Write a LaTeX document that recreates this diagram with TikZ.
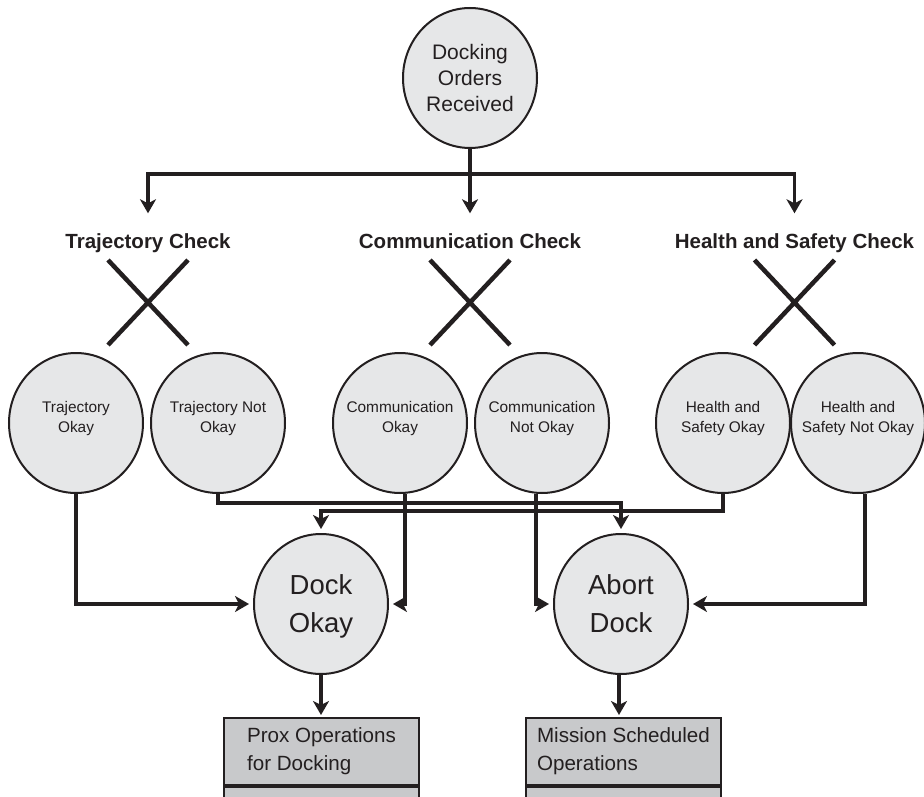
\documentclass[tikz,border=0pt]{standalone}
\usepackage{fontspec}
\setmainfont{Liberation Sans}
\usetikzlibrary{arrows.meta,shapes.geometric}
\definecolor{ink}{HTML}{231F20}
\definecolor{bubblefill}{HTML}{E6E7E8}
\definecolor{panelfill}{HTML}{C8C9CB}

\begin{document}
\begin{tikzpicture}[x=1pt,y=-1pt,
  bubble/.style={ellipse, draw=ink, fill=bubblefill, line width=2pt,
    minimum width=134pt, minimum height=140pt, inner sep=0pt,
    inner xsep=-14pt, align=center, text=ink},
  smallbubble/.style={bubble, font=\fontsize{15.4}{20}\selectfont, text depth=13pt},
  checklabel/.style={font=\bfseries\fontsize{20.5}{24}\selectfont, text=ink,
    inner sep=0pt, text height=15pt, text depth=4pt},
  panel/.style={rectangle, draw=ink, fill=panelfill, line width=2pt,
    minimum width=195pt, minimum height=67pt, inner sep=0pt, align=left,
    text=ink, font=\fontsize{20.6}{28}\selectfont},
  conn/.style={draw=ink, line width=3.2pt},
  arrow/.style={conn, -{Stealth[length=14pt,width=16pt,inset=4pt]}},
  cross/.style={draw=ink, line width=4.5pt}]
\useasboundingbox (0,0) rectangle (924,797);
\clip (0,0) rectangle (924,797);

% root of the decision tree
\node[bubble, font=\fontsize{21}{26}\selectfont] (orders) at (470,78) {Docking\\Orders\\Received};

% the three checks
\node[checklabel] (tc) at (148,243) {Trajectory Check};
\node[checklabel] (cc) at (470,243) {Communication Check};
\node[checklabel] (hc) at (794.5,243) {Health and Safety Check};

\coordinate (hub) at (470,174);
\draw[conn] (orders.south) -- (hub);
\draw[arrow, shorten >=20pt] (hub) -| (tc.north);
\draw[arrow, shorten >=20pt] (hub) -- (cc.north);
\draw[arrow, shorten >=20pt] (hub) -| (hc.north);

% branch crosses under each check
\foreach \c in {tc,cc,hc}{
  \draw[cross] ([shift={(-40,17)}]\c.center) -- ++(80,85)
               ([shift={(40,17)}]\c.center) -- ++(-80,85);
}

% outcomes of each check
\node[smallbubble] (t1) at (76,423) {Trajectory\\Okay};
\node[smallbubble] (t2) at (218,423) {Trajectory Not\\Okay};
\node[smallbubble] (c1) at (400,423) {Communication\\Okay};
\node[smallbubble] (c2) at (542,423) {Communication\\Not Okay};
\node[smallbubble] (h1) at (723,423) {Health and\\Safety Okay};
\node[smallbubble] (h2) at (858,423) {Health and\\Safety Not Okay};

% decisions
\node[bubble, font=\fontsize{27.5}{38}\selectfont, text depth=0pt] (dock) at (321,604) {Dock\\Okay};
\node[bubble, font=\fontsize{27.5}{38}\selectfont, text depth=0pt] (abort) at (621,604) {Abort\\Dock};

% routing from outcomes to decisions
\draw[arrow, shorten >=4pt] (t1.south) |- (dock.west);
\draw[arrow, shorten >=4pt] (t2.south) -- ++(0,9) -| (abort.north);
\draw[arrow, shorten >=4pt] (h1.south) -- ++(0,17) -| (dock.north);
\draw[arrow, shorten >=4pt] ([xshift=5pt]c1.south) |- (dock.east);
\draw[arrow, shorten >=4pt] ([xshift=-6pt]c2.south) |- (abort.west);
\draw[arrow, shorten >=4pt] ([xshift=7pt]h2.south) |- (abort.east);

% resulting operations
\node[panel] (prox) at (321.5,751.5) {Prox Operations\\for Docking};
\node[panel, anchor=north, minimum height=45pt] (proxlow) at (prox.south) {};
\node[panel] (mission) at (623.5,751.5) {Mission Scheduled\\Operations};
\node[panel, anchor=north, minimum height=45pt] (missionlow) at (mission.south) {};

\draw[arrow, shorten >=2pt] (dock.south) -- (dock.south |- prox.north);
\draw[arrow, shorten >=2pt] ([xshift=-2pt]abort.south) -- ([xshift=-2pt]abort.south |- mission.north);
\end{tikzpicture}
\end{document}
